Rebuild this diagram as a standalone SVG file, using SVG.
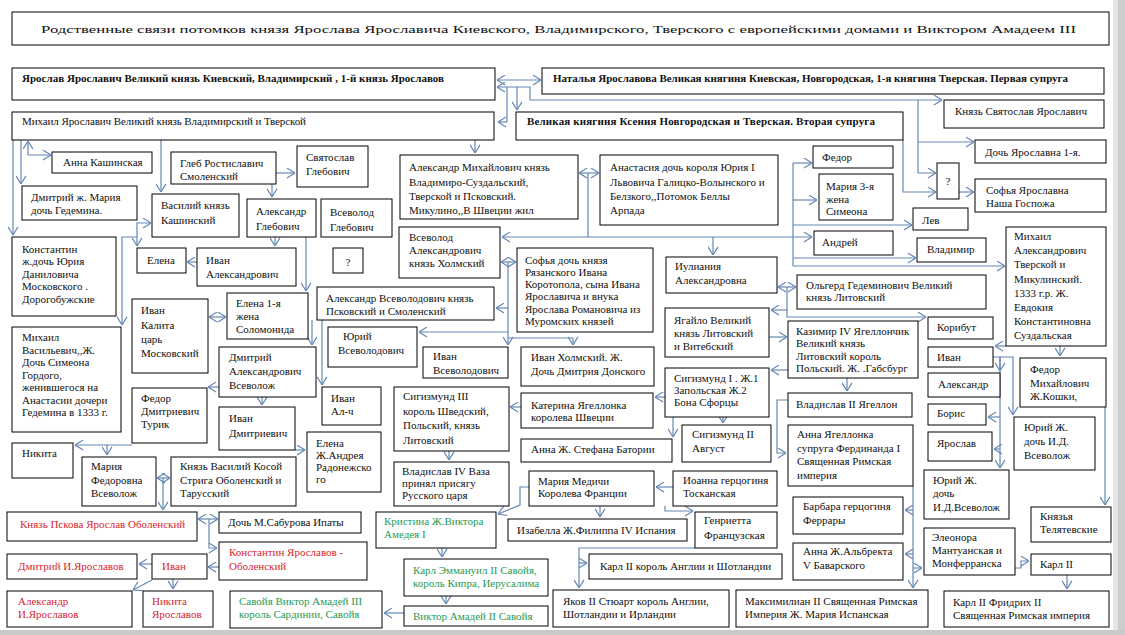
<svg xmlns="http://www.w3.org/2000/svg" width="1125" height="635" viewBox="0 0 1125 635">
<style>
.n rect{fill:#fff;stroke:#000;stroke-width:1}
text{font-family:"Liberation Serif","Times New Roman",serif;font-size:11px;fill:#111}
.bd text{font-weight:bold}
.r text{fill:#d8252e}
.g text{fill:#1f9a55}
#connectors path{fill:none;stroke:#6487b4;stroke-width:1.2;marker-end:url(#ah)}
#connectors path.both{marker-start:url(#ah)}
#connectors path.plain{marker-end:none}
</style>
<defs>
<marker id="ah" viewBox="0 0 10 12" refX="9.5" refY="6" markerWidth="9" markerHeight="11" orient="auto-start-reverse" markerUnits="userSpaceOnUse">
<path d="M0.5,0.5 L9.5,6 L0.5,11.5" fill="none" stroke="#6487b4" stroke-width="1.3"/>
</marker>
</defs>
<rect x="0" y="0" width="1125" height="635" fill="#fff"/>
<rect x="1113" y="0" width="5" height="635" fill="#e4e4e4"/>
<rect x="1118" y="0" width="7" height="635" fill="#cdcdcd"/>
<rect x="0" y="630" width="1125" height="5" fill="#c9c9c9"/>

<g id="title" class="n"><rect x="12" y="12" width="1097" height="33"/><text x="41" y="33" font-size="17" textLength="1035" lengthAdjust="spacingAndGlyphs">Родственные  связи  потомков князя  Ярослава Ярославича  Киевского, Владимирского, Тверского с  европейскими  домами и Виктором  Амадеем III</text></g>

<g id="connectors">
<path class="both" d="M497,80 H541"/>
<path class="both" d="M497,87 H530 V100 H942"/>
<path class="plain" d="M507,87 V122"/>
<path d="M507,122 H498"/>
<path d="M517,87 V110"/>
<path d="M918,100 V173 H936"/>
<path d="M918,142 H974"/>
<path d="M903,140 V192 H936"/>
<path d="M959,192 H974"/>
<path d="M21,140 V184"/>
<path d="M13,140 V235"/>
<path class="both" d="M28,141 V155 H51"/>
<path d="M161,140 V192"/>
<path d="M475,140 V153"/>
<path d="M276,173 H295"/>
<path d="M272,184 V197"/>
<path class="both" d="M151,223 H137 V246"/>
<path d="M137,237 H122 V325"/>
<path d="M197,262 H187"/>
<path d="M275,237 V246"/>
<path class="both" d="M209,317 H226"/>
<path d="M306,237 V291"/>
<path d="M219,387 H208"/>
<path d="M262,397 V405"/>
<path d="M312,320 V345"/>
<path d="M322,320 V385"/>
<path class="both" d="M502,237 H812"/>
<path d="M713,237 V255"/>
<path class="both" d="M579,173 H599"/>
<path class="plain" d="M588,173 V237"/>
<path class="plain" d="M793,163 V266"/>
<path d="M793,163 H812"/>
<path d="M793,200 H817"/>
<path d="M793,225 H912"/>
<path d="M793,258 H916"/>
<path d="M793,266 H1005"/>
<path class="both" d="M501,262 H516"/>
<path d="M508,262 V345"/>
<path d="M508,308 H496"/>
<path d="M508,332 H419"/>
<path d="M508,338 H573 V345"/>
<path d="M521,407 H510"/>
<path d="M665,397 H655"/>
<path d="M723,417 V423"/>
<path d="M673,417 V437"/>
<path class="both" d="M778,287 H796"/>
<path d="M787,287 V317 H926"/>
<path d="M787,310 H771"/>
<path d="M769,337 H787"/>
<path d="M788,370 H771"/>
<path d="M847,378 V391"/>
<path d="M788,400 H777 V453 H786"/>
<path d="M1006,346 H995"/>
<path d="M1060,346 V356"/>
<path d="M993,357 H1013 V415"/>
<path d="M1000,357 V468"/>
<path d="M1000,357 V371"/>
<path d="M1000,417 H988"/>
<path d="M1000,449 H994"/>
<path d="M1105,407 V505"/>
<path d="M132,445 H75"/>
<path d="M107,445 V455"/>
<path class="both" d="M157,478 H170"/>
<path d="M163,478 V510"/>
<path class="both" d="M198,519 H218"/>
<path d="M209,519 V548 H217"/>
<path d="M219,567 H208"/>
<path d="M152,564 H139"/>
<path d="M152,580 L133,590"/>
<path d="M173,579 V589"/>
<path d="M295,450 H305"/>
<path d="M449,451 V460"/>
<path d="M529,487 H520 V505 L498,514"/>
<path d="M442,548 V557"/>
<path d="M446,596 V604"/>
<path d="M404,613 H384"/>
<path d="M673,487 H656"/>
<path d="M665,506 V511 H693"/>
<path d="M600,506 V517"/>
<path d="M695,548 H579 V588"/>
<path d="M579,563 H587"/>
<path d="M913,486 V588"/>
<path d="M913,510 H905"/>
<path d="M913,554 H905"/>
<path d="M913,568 H922"/>
<path d="M1015,568 H1021 V561 H1029"/>
<path d="M1067,575 V589"/>
</g>

<g id="n-yaroslav" class="n bd"><rect x="12" y="68" width="483" height="32"/><text x="22" y="82" textLength="422" lengthAdjust="spacing">Ярослав  Ярославич Великий  князь Киевский, Владимирский , 1-й князь  Ярославов</text></g>
<g id="n-natalya" class="n bd"><rect x="542" y="68" width="562" height="26"/><text x="553" y="82" textLength="515" lengthAdjust="spacing">Наталья Ярославова  Великая княгиня Киевская, Новгородская, 1-я княгиня  Тверская. Первая  супруга</text></g>
<g id="n-mikhail-yar" class="n"><rect x="12" y="112" width="482" height="28"/><text x="22" y="125" textLength="284" lengthAdjust="spacing">Михаил Ярославич Великий князь Владимирский и Тверской</text></g>
<g id="n-kseniya" class="n bd"><rect x="516" y="112" width="387" height="28"/><text x="527" y="125" textLength="348" lengthAdjust="spacing">Великая княгиня  Ксения  Новгородская и Тверская. Вторая супруга</text></g>
<g id="n-svyatoslav-yar" class="n"><rect x="944" y="100" width="160" height="28"/><text x="955" y="115">Князь Святослав  Ярославич</text></g>
<g id="n-doch-yar" class="n"><rect x="975" y="140" width="131" height="23"/><text x="985" y="156">Дочь Ярославна 1-я.</text></g>
<g id="n-q1" class="n"><rect x="937" y="163" width="22" height="36"/><text x="948" y="185" text-anchor="middle">?</text></g>
<g id="n-sofya-yar" class="n"><rect x="975" y="179" width="131" height="33"/><text x="986" y="194">Софья  Ярославна</text><text x="986" y="207">Наша Госпожа</text></g>

<g id="n-anna-kash" class="n"><rect x="52" y="152" width="100" height="21"/><text x="63" y="166">Анна Кашинская</text></g>
<g id="n-gleb" class="n"><rect x="171" y="152" width="105" height="32"/><text x="180" y="167">Глеб  Ростиславич</text><text x="180" y="180">Смоленский</text></g>
<g id="n-dmitry-m" class="n"><rect x="22" y="186" width="115" height="34"/><text x="31" y="201">Дмитрий ж. Мария</text><text x="31" y="214">дочь Гедемина.</text></g>
<g id="n-vasily-k" class="n"><rect x="152" y="194" width="87" height="43"/><text x="161" y="209">Василий князь</text><text x="161" y="224">Кашинский</text></g>
<g id="n-svyatoslav-g" class="n"><rect x="297" y="146" width="71" height="41"/><text x="306" y="161">Святослав</text><text x="306" y="175">Глебович</text></g>
<g id="n-aleksandr-g" class="n"><rect x="247" y="199" width="69" height="38"/><text x="256" y="215">Александр</text><text x="256" y="230">Глебович</text></g>
<g id="n-vsevolod-g" class="n"><rect x="321" y="199" width="71" height="38"/><text x="330" y="216">Всеволод</text><text x="330" y="231">Глебович</text></g>
<g id="n-aleksandr-m" class="n"><rect x="400" y="155" width="178" height="64"/><text x="409" y="171">Александр  Михайлович князь</text><text x="409" y="186">Владимиро-Суздальский,</text><text x="409" y="200">Тверской  и Псковский.</text><text x="409" y="214">Микулино,,В Швеции жил</text></g>
<g id="n-anastasiya" class="n"><rect x="600" y="155" width="178" height="70"/><text x="610" y="171">Анастасия  дочь короля Юрия I</text><text x="610" y="186">Львовича Галицко-Волынского и</text><text x="610" y="200">Белзкого,,Потомок Беллы</text><text x="610" y="214">Арпада</text></g>
<g id="n-fedor" class="n"><rect x="813" y="146" width="80" height="22"/><text x="822" y="161">Федор</text></g>
<g id="n-mariya-s" class="n"><rect x="819" y="174" width="74" height="46"/><text x="826" y="190">Мария  3-я</text><text x="826" y="203">жена</text><text x="826" y="215">Симеона</text></g>
<g id="n-lev" class="n"><rect x="913" y="208" width="55" height="22"/><text x="922" y="224">Лев</text></g>

<g id="n-konstantin" class="n"><rect x="12" y="237" width="104" height="79"/><text x="22" y="253">Константин</text><text x="22" y="265">ж.дочь Юрия</text><text x="22" y="278">Даниловича</text><text x="22" y="290">Московского .</text><text x="22" y="303">Дорогобужские</text></g>
<g id="n-mikhail-v" class="n"><rect x="12" y="327" width="109" height="105"/><text x="22" y="341">Михаил</text><text x="22" y="354">Васильевич,,Ж.</text><text x="22" y="366">Дочь  Симеона</text><text x="22" y="379">Гордого,</text><text x="22" y="391">женившегося на</text><text x="22" y="404">Анастасии дочери</text><text x="22" y="416">Гедемина  в 1333 г.</text></g>
<g id="n-elena" class="n"><rect x="137" y="248" width="49" height="25"/><text x="147" y="264">Елена</text></g>
<g id="n-ivan-a" class="n"><rect x="197" y="248" width="99" height="38"/><text x="206" y="264">Иван</text><text x="206" y="278">Александрович</text></g>
<g id="n-ivan-kalita" class="n"><rect x="132" y="299" width="76" height="74"/><text x="141" y="314">Иван</text><text x="141" y="329">Калита</text><text x="141" y="343">царь</text><text x="141" y="357">Московский</text></g>
<g id="n-elena-sol" class="n"><rect x="227" y="293" width="81" height="46"/><text x="236" y="307">Елена  1-я</text><text x="236" y="320">жена</text><text x="236" y="333">Соломонида</text></g>
<g id="n-dmitry-a" class="n"><rect x="219" y="347" width="97" height="50"/><text x="229" y="361">Дмитрий</text><text x="229" y="375">Александрович</text><text x="229" y="389">Всеволож</text></g>
<g id="n-fedor-d" class="n"><rect x="132" y="388" width="75" height="55"/><text x="141" y="402">Федор</text><text x="141" y="415">Дмитриевич</text><text x="141" y="428">Турик</text></g>
<g id="n-ivan-d" class="n"><rect x="219" y="407" width="76" height="43"/><text x="229" y="422">Иван</text><text x="229" y="437">Дмитриевич</text></g>
<g id="n-q2" class="n"><rect x="333" y="248" width="30" height="25"/><text x="348" y="266" text-anchor="middle">?</text></g>
<g id="n-vsevolod-a" class="n"><rect x="399" y="227" width="101" height="51"/><text x="409" y="241">Всеволод</text><text x="409" y="254">Александрович</text><text x="409" y="267">князь  Холмский</text></g>
<g id="n-sofya-r" class="n"><rect x="517" y="248" width="136" height="84"/><text x="525" y="264">Софья  дочь князя</text><text x="525" y="276">Рязанского  Ивана</text><text x="525" y="288">Коротопола, сына Ивана</text><text x="525" y="300">Ярославича и внука</text><text x="525" y="313">Ярослава  Романовича из</text><text x="525" y="325">Муромских князей</text></g>
<g id="n-aleksandr-v" class="n"><rect x="317" y="287" width="177" height="33"/><text x="326" y="302">Александр Всеволодович князь</text><text x="326" y="315">Псковский и Смоленский</text></g>
<g id="n-yury-v" class="n"><rect x="328" y="327" width="89" height="40"/><text x="343" y="340">Юрий</text><text x="338" y="354">Всеволодович</text></g>
<g id="n-ivan-v" class="n"><rect x="423" y="347" width="85" height="31"/><text x="433" y="360">Иван</text><text x="433" y="374">Всеволодович</text></g>
<g id="n-ivan-kh" class="n"><rect x="521" y="347" width="133" height="39"/><text x="531" y="361">Иван Холмский. Ж.</text><text x="531" y="375">Дочь Дмитрия Донского</text></g>
<g id="n-ivan-al" class="n"><rect x="322" y="387" width="59" height="38"/><text x="331" y="402">Иван</text><text x="331" y="415">Ал-ч</text></g>
<g id="n-sigizmund3" class="n"><rect x="394" y="387" width="115" height="64"/><text x="403" y="400">Сигизмунд  III</text><text x="403" y="415">король Шведский,</text><text x="403" y="429">Польский, князь</text><text x="403" y="444">Литовский</text></g>
<g id="n-katerina" class="n"><rect x="521" y="393" width="132" height="35"/><text x="531" y="409">Катерина  Ягеллонка</text><text x="531" y="421">королева Швеции</text></g>
<g id="n-iuliania" class="n"><rect x="666" y="257" width="111" height="36"/><text x="675" y="270">Иулиания</text><text x="675" y="284">Александровна</text></g>
<g id="n-andrey" class="n"><rect x="814" y="231" width="79" height="24"/><text x="822" y="246">Андрей</text></g>
<g id="n-olgerd" class="n"><rect x="797" y="275" width="189" height="34"/><text x="806" y="289">Ольгерд Гедеминович Великий</text><text x="806" y="301">князь  Литовский</text></g>
<g id="n-yagailo" class="n"><rect x="665" y="308" width="104" height="49"/><text x="674" y="324">Ягайло  Великий</text><text x="674" y="337">князь Литовский</text><text x="674" y="350">и Витебский</text></g>
<g id="n-kazimir" class="n"><rect x="788" y="321" width="130" height="57"/><text x="796" y="335">Казимир IV Ягеллончик</text><text x="796" y="347">Великий князь</text><text x="796" y="360">Литовский  король</text><text x="796" y="372">Польский. Ж. .Габсбург</text></g>
<g id="n-sigizmund1" class="n"><rect x="665" y="368" width="104" height="49"/><text x="674" y="382">Сигизмунд I . Ж.1</text><text x="674" y="394">Запольская Ж.2</text><text x="674" y="406">Бона Сфорцы</text></g>
<g id="n-vladislav2" class="n"><rect x="788" y="393" width="124" height="24"/><text x="796" y="408">Владислав II  Ягеллон</text></g>
<g id="n-vladimir" class="n"><rect x="917" y="238" width="69" height="24"/><text x="927" y="253">Владимир</text></g>
<g id="n-mikhail-a" class="n"><rect x="1006" y="227" width="100" height="119"/><text x="1014" y="240">Михаил</text><text x="1014" y="254">Александрович</text><text x="1014" y="268">Тверской  и</text><text x="1014" y="283">Микулинский.</text><text x="1014" y="297">1333 г.р.   Ж.</text><text x="1014" y="311">Евдокия</text><text x="1014" y="325">Константиновна</text><text x="1014" y="339">Суздальская</text></g>
<g id="n-koribut" class="n"><rect x="928" y="317" width="65" height="22"/><text x="937" y="331">Корибут</text></g>
<g id="n-ivan-m" class="n"><rect x="928" y="347" width="65" height="20"/><text x="937" y="361">Иван</text></g>
<g id="n-aleksandr-m2" class="n"><rect x="928" y="373" width="72" height="24"/><text x="938" y="388">Александр</text></g>
<g id="n-boris" class="n"><rect x="928" y="404" width="58" height="21"/><text x="937" y="417">Борис</text></g>
<g id="n-fedor-m" class="n"><rect x="1020" y="358" width="86" height="49"/><text x="1030" y="373">Федор</text><text x="1030" y="387">Михайлович</text><text x="1030" y="400">Ж.Кошки,</text></g>
<g id="n-yury-1" class="n"><rect x="1014" y="417" width="81" height="53"/><text x="1024" y="431">Юрий Ж.</text><text x="1024" y="445">дочь И.Д.</text><text x="1024" y="459">Всеволож</text></g>

<g id="n-nikita" class="n"><rect x="12" y="443" width="61" height="35"/><text x="22" y="457">Никита</text></g>
<g id="n-mariya-f" class="n"><rect x="82" y="457" width="74" height="49"/><text x="91" y="470">Мария</text><text x="91" y="484">Федоровна</text><text x="91" y="497">Всеволож</text></g>
<g id="n-vasily-kosoy" class="n"><rect x="171" y="457" width="125" height="49"/><text x="180" y="470">Князь  Василий  Косой</text><text x="180" y="484">Стрига  Оболенский и</text><text x="180" y="497">Тарусский</text></g>
<g id="n-yaroslav-ob" class="n r"><rect x="7" y="512" width="190" height="29"/><text x="20" y="528">Князь   Пскова Ярослав Оболенский</text></g>
<g id="n-doch-sab" class="n"><rect x="219" y="512" width="142" height="21"/><text x="228" y="526">Дочь  М.Сабурова Ипаты</text></g>
<g id="n-konstantin-ya" class="n r"><rect x="219" y="542" width="148" height="38"/><text x="229" y="556">Константин  Ярославов  -</text><text x="229" y="570">Оболенский</text></g>
<g id="n-dmitry-ya" class="n r"><rect x="7" y="554" width="130" height="25"/><text x="18" y="570">Дмитрий И.Ярославов</text></g>
<g id="n-ivan-ya" class="n r"><rect x="152" y="554" width="55" height="25"/><text x="162" y="570">Иван</text></g>
<g id="n-aleksandr-ya" class="n r"><rect x="7" y="591" width="125" height="36"/><text x="18" y="605">Александр</text><text x="18" y="618">И.Ярославов</text></g>
<g id="n-nikita-ya" class="n r"><rect x="143" y="591" width="70" height="36"/><text x="152" y="605">Никита</text><text x="152" y="618">Ярославов</text></g>
<g id="n-savoy3" class="n g"><rect x="230" y="591" width="152" height="37"/><text x="239" y="605">Савойя  Виктор Амадей III</text><text x="239" y="618">король Сардинии, Савойя</text></g>
<g id="n-elena-r" class="n"><rect x="307" y="432" width="74" height="60"/><text x="316" y="447">Елена</text><text x="316" y="459">Ж.Андрея</text><text x="316" y="471">Радонежско</text><text x="316" y="483">го</text></g>
<g id="n-vladislav4" class="n"><rect x="394" y="462" width="115" height="44"/><text x="402" y="475">Владислав IV  Ваза</text><text x="402" y="487">принял присягу</text><text x="402" y="499">Русского царя</text></g>
<g id="n-mariya-med" class="n"><rect x="529" y="471" width="125" height="35"/><text x="538" y="485">Мария  Медичи</text><text x="538" y="497">Королева Франции</text></g>
<g id="n-kristina" class="n g"><rect x="376" y="512" width="120" height="36"/><text x="384" y="525">Кристина Ж.Виктора</text><text x="384" y="538">Амедея I</text></g>
<g id="n-izabella" class="n"><rect x="508" y="519" width="179" height="22"/><text x="517" y="534">Изабелла Ж.Филиппа IV Испания</text></g>
<g id="n-karl-em" class="n g"><rect x="404" y="559" width="144" height="37"/><text x="413" y="574">Карл Эммануил II Савойя,</text><text x="413" y="587">король Кипра, Иерусалима</text></g>
<g id="n-viktor2" class="n g"><rect x="404" y="606" width="144" height="20"/><text x="413" y="620">Виктор Амадей II Савойя</text></g>
<g id="n-yakov2" class="n"><rect x="553" y="590" width="176" height="37"/><text x="563" y="605">Яков II Стюарт король Англии,</text><text x="563" y="618">Шотландии и Ирландии</text></g>
<g id="n-anna-bat" class="n"><rect x="521" y="439" width="151" height="23"/><text x="531" y="453">Анна Ж. Стефана Батории</text></g>
<g id="n-sigizmund2" class="n"><rect x="682" y="425" width="89" height="37"/><text x="692" y="438">Сигизмунд II</text><text x="692" y="452">Август</text></g>
<g id="n-anna-yag" class="n"><rect x="788" y="425" width="125" height="61"/><text x="797" y="438">Анна Ягеллонка</text><text x="797" y="452">супруга  Фердинанда I</text><text x="797" y="465">Священная Римская</text><text x="797" y="479">империя</text></g>
<g id="n-ioanna" class="n"><rect x="673" y="471" width="104" height="35"/><text x="683" y="484">Иоанна герцогиня</text><text x="683" y="497">Тосканская</text></g>
<g id="n-genrietta" class="n"><rect x="695" y="512" width="82" height="36"/><text x="704" y="524">Генриетта</text><text x="704" y="539">Французская</text></g>
<g id="n-barbara" class="n"><rect x="793" y="497" width="110" height="37"/><text x="803" y="510">Барбара  герцогиня</text><text x="803" y="524">Феррары</text></g>
<g id="n-anna-alb" class="n"><rect x="793" y="543" width="110" height="37"/><text x="803" y="555">Анна  Ж.Альбректа</text><text x="803" y="569">V Баварского</text></g>
<g id="n-karl2-ang" class="n"><rect x="589" y="554" width="193" height="25"/><text x="600" y="570">Карл  II король Англии и Шотландии</text></g>
<g id="n-maksimilian" class="n"><rect x="736" y="590" width="192" height="37"/><text x="745" y="605">Максимилиан  II Священная Римская</text><text x="745" y="618">Империя  Ж.  Мария  Испанская</text></g>
<g id="n-yaroslav-m" class="n"><rect x="928" y="432" width="64" height="29"/><text x="937" y="447">Ярослав</text></g>
<g id="n-yury-2" class="n"><rect x="924" y="470" width="85" height="49"/><text x="933" y="484">Юрий Ж.</text><text x="933" y="497">дочь</text><text x="933" y="511">И.Д.Всеволож</text></g>
<g id="n-telyatevskie" class="n"><rect x="1031" y="507" width="80" height="35"/><text x="1040" y="520">Князья</text><text x="1040" y="533">Телятевские</text></g>
<g id="n-eleonora" class="n"><rect x="924" y="528" width="91" height="47"/><text x="932" y="541">Элеонора</text><text x="932" y="554">Мантуанская и</text><text x="932" y="567">Монферранска</text></g>
<g id="n-karl2" class="n"><rect x="1031" y="554" width="80" height="21"/><text x="1040" y="568">Карл II</text></g>
<g id="n-karl2-fr" class="n"><rect x="944" y="591" width="165" height="36"/><text x="953" y="606">Карл II  Фридрих II</text><text x="953" y="619">Священная Римская   империя</text></g>
</svg>
